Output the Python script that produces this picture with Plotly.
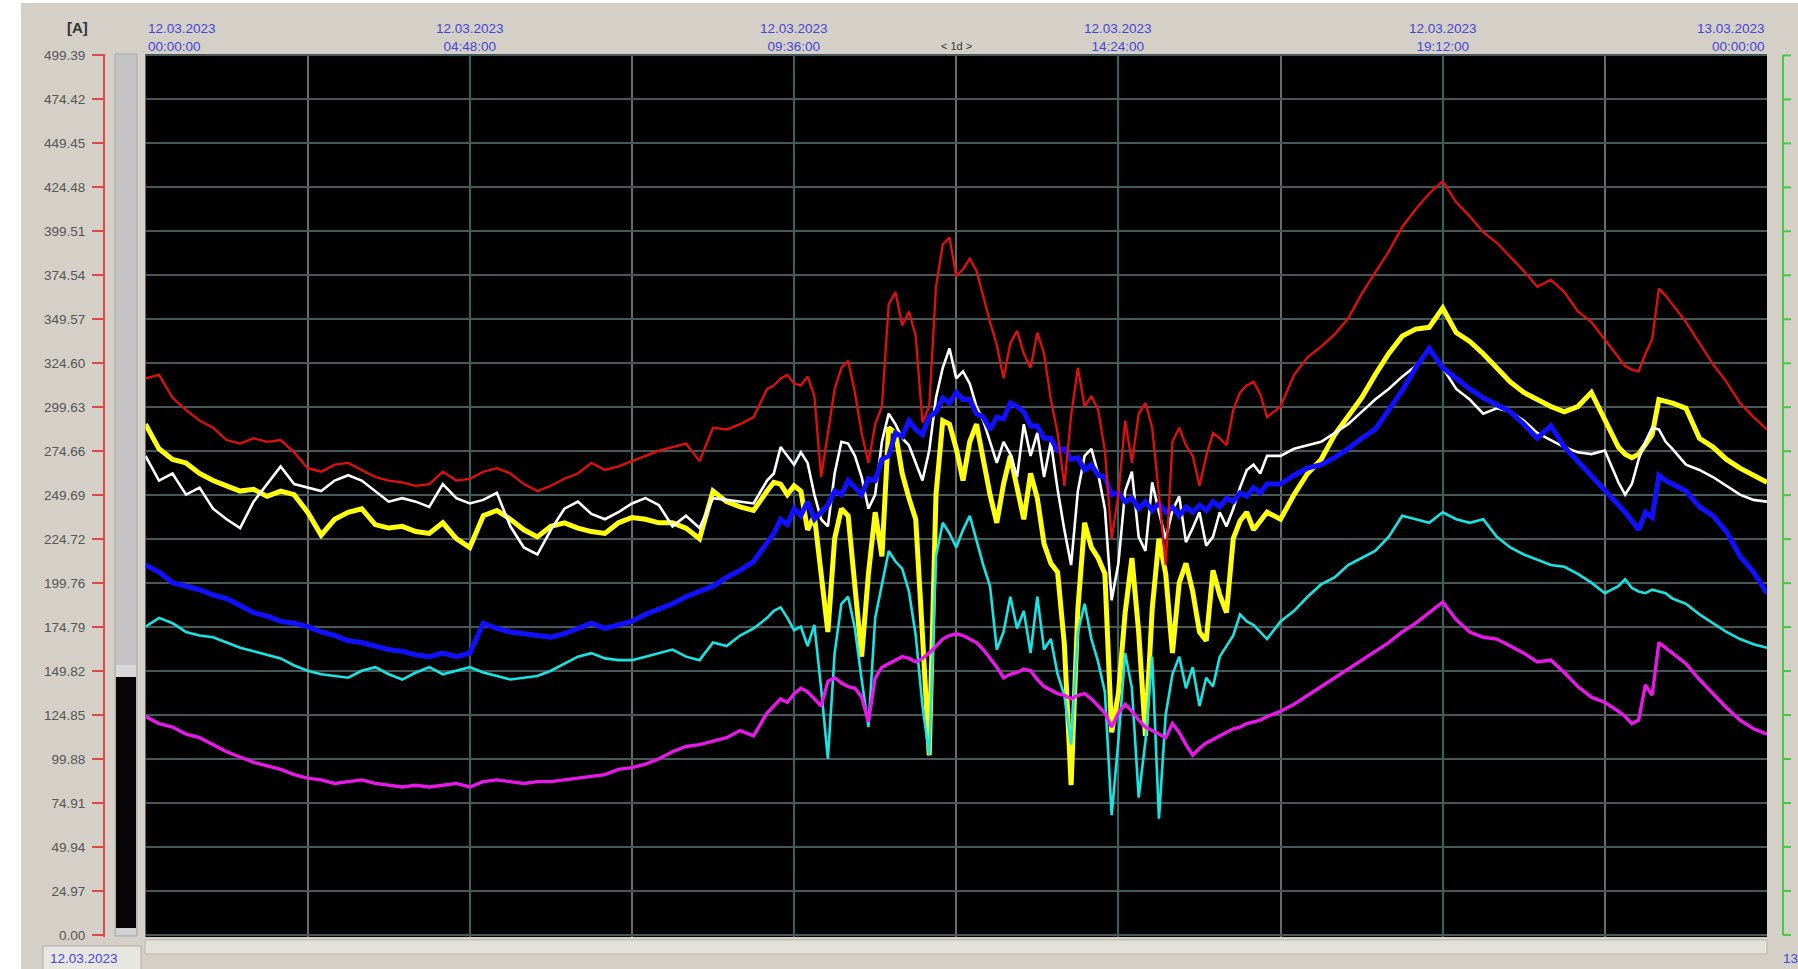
import plotly.graph_objects as go
from datetime import datetime, timedelta

# Sampling instants (hours after 12.03.2023 00:00): coarser where the load is calm,
# finer through the midday swings and the evening step.
hours = ([round(0.2 * i, 1) for i in range(47)]            # 0.0 .. 9.2
         + [round(9.3 + 0.1 * i, 1) for i in range(74)]    # 9.3 .. 16.6
         + [round(16.8 + 0.2 * i, 1) for i in range(26)]   # 16.8 .. 21.8
         + [round(21.9 + 0.1 * i, 1) for i in range(8)]    # 21.9 .. 22.6
         + [round(22.8 + 0.2 * i, 1) for i in range(7)])   # 22.8 .. 24.0

# Phase currents [A]
red = [
    316, 318, 305, 298, 292, 288, 281, 279, 282, 280,
    281, 274, 265, 263, 267, 268, 264, 260, 258, 257,
    255, 256, 263, 258, 259, 263, 265, 262, 256, 252,
    255, 259, 262, 268, 264, 266, 269, 272, 275, 277,
    279, 269, 288, 287, 290, 294, 310,
    312, 316, 318, 313, 312, 317, 306, 260, 285, 310,
    322, 326, 308, 285, 268, 290, 300, 358, 365, 346,
    354, 340, 291, 300, 368, 392, 396, 374, 378, 384,
    377, 362, 348, 335, 316, 336, 343, 330, 322, 342,
    330, 304, 285, 255, 295, 322, 300, 306, 298, 275,
    225, 250, 292, 268, 296, 302, 288, 250, 210, 280,
    288, 278, 272, 255, 272, 285, 282, 278, 298, 308,
    312, 314, 307, 294,
    300, 318, 328, 334, 341, 350, 364, 376, 388, 402,
    412, 421, 428, 416, 408, 399, 393, 385, 377, 368,
    372, 365, 354, 348, 338, 328,
    323, 321, 320, 330, 338, 367, 363, 358,
    348, 336, 324, 314, 302, 294, 287,
]

yellow = [
    290, 276, 270, 268, 262, 258, 255, 252, 253, 249,
    252, 250, 240, 227, 236, 240, 242, 233, 231, 232,
    229, 228, 234, 225, 220, 238, 241, 236, 230, 226,
    232, 234, 231, 229, 228, 234, 237, 236, 234, 234,
    231, 225, 252, 246, 243, 241, 252,
    257, 256, 250, 255, 252, 230, 238, 205, 172, 225,
    242, 238, 195, 158, 205, 240, 215, 288, 285, 262,
    248, 236, 170, 102, 250, 292, 290, 276, 258, 280,
    290, 268, 250, 234, 256, 272, 254, 236, 262, 248,
    222, 211, 206, 165, 85, 185, 234, 220, 214, 205,
    115, 137, 183, 214, 172, 113, 185, 225, 205, 160,
    200, 211, 195, 172, 167, 207, 193, 183, 225, 235,
    240, 230, 235, 240,
    236, 250, 262, 270, 284, 294, 305, 318, 330, 340,
    344, 345, 356, 342, 337, 330, 322, 314, 308, 304,
    300, 297, 300, 308, 292, 277,
    273, 271, 273, 278, 284, 304, 303, 302,
    299, 282, 277, 270, 265, 261, 257,
]

white = [
    272, 258, 262, 250, 254, 242, 236, 231, 246, 256,
    266, 256, 254, 252, 258, 261, 258, 252, 246, 248,
    246, 243, 256, 248, 245, 247, 251, 232, 220, 216,
    230, 242, 246, 239, 236, 240, 245, 248, 244, 232,
    238, 231, 248, 247, 246, 245, 258,
    262, 277, 272, 267, 274, 268, 250, 236, 232, 262,
    280, 279, 272, 260, 242, 250, 280, 296, 290, 282,
    278, 268, 258, 275, 305, 322, 333, 316, 320, 313,
    300, 292, 280, 268, 280, 273, 260, 290, 272, 285,
    260, 280, 253, 230, 210, 252, 272, 276, 262, 242,
    190, 211, 252, 263, 226, 218, 257, 240, 225, 241,
    249, 223, 231, 240, 221, 226, 240, 232, 242, 254,
    264, 267, 262, 272,
    272, 276, 278, 280, 285, 290, 297, 304, 310, 317,
    323, 333, 322, 310, 304, 296, 299, 297, 292, 285,
    281, 277, 274, 273, 275, 257,
    250, 256, 270, 280, 288, 287, 280, 276,
    267, 264, 260, 255, 250, 247, 246,
]

blue = [
    210, 206, 200, 198, 196, 193, 191, 187, 183, 181,
    178, 177, 175, 172, 170, 167, 166, 164, 162, 161,
    159, 158, 160, 158, 160, 177, 174, 172, 171, 170,
    169, 171, 174, 177, 174, 176, 178, 182, 185, 188,
    192, 195, 198, 203, 207, 212, 222,
    228, 236, 233, 242, 238, 246, 236, 240, 244, 252,
    250, 258, 254, 250, 259, 258, 270, 272, 285, 283,
    292, 287, 284, 294, 297, 305, 302, 308, 304, 304,
    296, 294, 287, 294, 293, 302, 300, 297, 289, 289,
    282, 282, 275, 276, 270, 271, 264, 267, 261, 260,
    250, 251, 246, 248, 242, 246, 241, 245, 240, 243,
    238, 243, 240, 244, 241, 246, 243, 248, 246, 251,
    249, 254, 251, 256,
    256, 261, 265, 267, 271, 276, 282, 287, 298, 309,
    322, 333, 322, 316, 310, 305, 301, 297, 290, 282,
    289, 277, 269, 261, 252, 245,
    240, 235, 230, 240, 237, 261, 258, 256,
    252, 243, 238, 229, 215, 206, 194,
]

cyan = [
    175, 180, 177, 172, 170, 169, 166, 163, 161, 159,
    157, 153, 150, 148, 147, 146, 150, 152, 148, 145,
    149, 152, 148, 150, 152, 149, 147, 145, 146, 147,
    150, 154, 158, 160, 157, 156, 156, 158, 160, 162,
    158, 156, 166, 164, 170, 174, 180,
    184, 186, 180, 173, 175, 164, 176, 140, 100, 160,
    188, 192, 174, 145, 118, 180, 200, 218, 212, 208,
    195, 170, 130, 102, 215, 234, 228, 220, 230, 238,
    224, 210, 198, 162, 172, 192, 174, 184, 160, 192,
    162, 168, 148, 136, 108, 172, 188, 168, 155, 138,
    68, 110, 160, 140, 78, 110, 158, 66, 125, 148,
    158, 140, 152, 130, 146, 141, 158, 164, 170, 182,
    178, 176, 172, 168,
    178, 184, 192, 199, 203, 210, 214, 218, 226, 238,
    236, 234, 240, 236, 234, 236, 226, 220, 216, 213,
    210, 209, 205, 200, 194, 198,
    202, 197, 195, 194, 196, 195, 194, 191,
    188, 182, 177, 172, 168, 165, 163,
]

magenta = [
    124, 120, 118, 114, 112, 108, 104, 101, 98, 96,
    94, 91, 89, 88, 86, 87, 88, 86, 85, 84,
    85, 84, 85, 86, 84, 87, 88, 87, 86, 87,
    87, 88, 89, 90, 91, 94, 95, 97, 100, 104,
    107, 108, 110, 112, 116, 113, 126,
    130, 134, 132, 137, 140, 138, 134, 130, 144, 146,
    143, 141, 140, 135, 121, 146, 152, 154, 156, 158,
    157, 155, 157, 160, 164, 168, 170, 171, 170, 168,
    166, 162, 157, 152, 146, 148, 149, 151, 150, 145,
    141, 139, 137, 136, 134, 136, 137, 134, 130, 126,
    118, 126, 131, 127, 122, 118, 116, 114, 112, 120,
    115, 108, 102, 106, 109, 111, 113, 115, 117, 118,
    120, 121, 122, 124,
    127, 131, 136, 141, 146, 151, 156, 161, 166, 172,
    177, 183, 189, 179, 172, 169, 168, 164, 160, 155,
    156, 149, 141, 135, 132, 127,
    124, 120, 122, 142, 136, 166, 163, 160,
    154, 145, 137, 129, 122, 117, 114,
]

y_labels = ["0.00", "24.97", "49.94", "74.91", "99.88", "124.85", "149.82",
            "174.79", "199.76", "224.72", "249.69", "274.66", "299.63", "324.60",
            "349.57", "374.54", "399.51", "424.48", "449.45", "474.42", "499.39"]
labelled_hours = [0, 4.8, 9.6, 14.4, 19.2, 24]
unlabelled_hours = [2.4, 7.2, 12.0, 16.8, 21.6]

for s in (red, yellow, white, blue, cyan, magenta):
    assert len(s) == len(hours), len(s)

start = datetime(2023, 3, 12)
times = [start + timedelta(hours=h) for h in hours]
y_vals = [float(s) for s in y_labels]

# pixel frame of the plotting area
L, R, T, B = 104, 1767, 54, 937


def px(x):
    return (x - L) / (R - L)


def py(y):
    return (B - y) / (B - T)


fig = go.Figure()
series = [
    (yellow, "#ffff10", 5.0),
    (white, "#ffffff", 2.6),
    (blue, "#1010ff", 5.0),
    (cyan, "#18e4e4", 2.6),
    (magenta, "#e818e8", 3.4),
    (red, "#e01010", 2.3),
]
for vals, col, w in series:
    fig.add_trace(go.Scatter(x=times, y=vals, mode="lines",
                             line=dict(color=col, width=w), hoverinfo="skip"))

label_font = dict(family="Liberation Sans, Arial, sans-serif", size=13.5, color="#4646d4")

annotations = []
for i, h in enumerate(labelled_hours):
    t = start + timedelta(hours=h)
    anchor = "left" if i == 0 else ("right" if i == len(labelled_hours) - 1 else "center")
    annotations.append(dict(x=t, xref="x", y=py(56), yref="paper", yanchor="bottom",
                            xanchor=anchor, showarrow=False, align=anchor,
                            text=f"{t:%d.%m.%Y}<br>{t:%H:%M:%S}", font=label_font))
annotations += [
    dict(x=start + timedelta(hours=12), xref="x", y=py(46), yref="paper",
         xanchor="center", yanchor="middle", showarrow=False, text="&lt; 1d &gt;",
         font=dict(family="Liberation Sans, Arial", size=11, color="#333333")),
    dict(x=px(77), xref="paper", y=py(28), yref="paper", xanchor="center",
         yanchor="middle", showarrow=False, text="<b>[A]</b>",
         font=dict(family="Liberation Sans, Arial", size=15, color="#333333")),
    dict(x=px(48), xref="paper", y=py(949), yref="paper", xanchor="left",
         yanchor="top", showarrow=False, align="left",
         text="12.03.2023", font=label_font),
    dict(x=px(1781), xref="paper", y=py(949), yref="paper", xanchor="left",
         yanchor="top", showarrow=False, align="left",
         text="13", font=label_font),
]

shapes = [
    # window edges
    dict(type="rect", xref="paper", yref="paper", x0=px(0), x1=px(21), y0=py(969), y1=py(0),
         fillcolor="#ffffff", line=dict(width=0), layer="below"),
    dict(type="rect", xref="paper", yref="paper", x0=px(0), x1=px(1798), y0=py(3), y1=py(0),
         fillcolor="#ffffff", line=dict(width=0), layer="below"),
    # level bar beside the current scale
    dict(type="rect", xref="paper", yref="paper", x0=px(115), x1=px(137), y0=py(936), y1=py(54),
         fillcolor="#c4c4c4", line=dict(color="#a9a9a9", width=1)),
    dict(type="rect", xref="paper", yref="paper", x0=px(116), x1=px(136), y0=py(677), y1=py(665),
         fillcolor="#d8d8d8", line=dict(width=0)),
    dict(type="rect", xref="paper", yref="paper", x0=px(116), x1=px(136), y0=py(928), y1=py(677),
         fillcolor="#050505", line=dict(width=0)),
    dict(type="rect", xref="paper", yref="paper", x0=px(116), x1=px(136), y0=py(935), y1=py(928),
         fillcolor="#d2d2d2", line=dict(width=0)),
    # time scroll strip and its start box
    dict(type="rect", xref="paper", yref="paper", x0=px(145), x1=px(1767), y0=py(954), y1=py(940),
         fillcolor="#e4e1da", line=dict(color="#b8b5ae", width=1)),
    dict(type="rect", xref="paper", yref="paper", x0=px(43), x1=px(141), y0=py(970), y1=py(946),
         fillcolor="#e8e6e0", line=dict(color="#b0aea8", width=1)),
    # secondary (green) scale on the right
    dict(type="line", xref="paper", yref="paper", x0=px(1783), x1=px(1783), y0=py(935), y1=py(55),
         line=dict(color="#46c846", width=2)),
]
for v in y_vals:
    shapes.append(dict(type="line", xref="paper", yref="y", x0=px(1783), x1=px(1791),
                       y0=v, y1=v, line=dict(color="#46c846", width=2)))

fig.update_layout(
    width=1798, height=969,
    margin=dict(l=L, r=1798 - R, t=T, b=969 - B, pad=0),
    paper_bgcolor="#d4d0c8", plot_bgcolor="#000000",
    showlegend=False, hovermode=False,
    xaxis=dict(
        type="date", domain=[px(145.5), 1],
        range=[start, start + timedelta(hours=24)],
        tickvals=[start + timedelta(hours=h) for h in labelled_hours],
        showticklabels=False, ticks="", showline=False, zeroline=False,
        showgrid=True, gridcolor="#2c6666", gridwidth=1.5,
        minor=dict(tickvals=[start + timedelta(hours=h) for h in unlabelled_hours],
                   showgrid=True, gridcolor="#6a6a6a", gridwidth=1.5, ticks=""),
    ),
    yaxis=dict(
        range=[-1.2, 500.2], anchor="free", position=0,
        tickmode="array", tickvals=y_vals, ticktext=y_labels,
        ticks="outside", ticklen=11, tickwidth=2, tickcolor="#e04848",
        showline=True, linecolor="#e04848", linewidth=2,
        tickfont=dict(family="Liberation Sans, Arial, sans-serif", size=13.5, color="#555555"),
        ticklabelstandoff=4,
        showgrid=True, gridcolor="#465858", gridwidth=1.5, zeroline=False,
    ),
    annotations=annotations,
    shapes=shapes,
)

fig.write_html("out.html")
